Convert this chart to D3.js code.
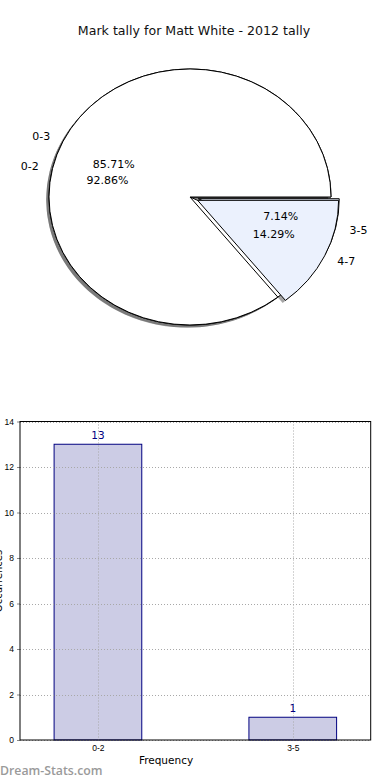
<!DOCTYPE html>
<html>
<head>
<meta charset="utf-8">
<script src="https://cdn.jsdelivr.net/npm/d3@7"></script>
<style>
  body { margin: 0; background: #fff; }
  svg { display: block; font-family: "DejaVu Sans", sans-serif; }
</style>
</head>
<body>
<div id="root"></div>
<script>
// pie 1 (drawn first, mostly hidden) and pie 2 (drawn on top)
var pieLabelsA = ["0-2", "3-5"];
var pieValuesA = [13, 1];
var pieLabelsB = ["0-3", "4-7"];
var pieValuesB = [12, 2];
var pieExplode = [0, 0.06];
var pieColors = ["#ffffff", "#ebf1fd"];

// bar chart
var barCategories = ["0-2", "3-5"];
var barValues = [13, 1];
var yTicks = [0, 2, 4, 6, 8, 10, 12, 14];

var W = 390, H = 780;
var svg = d3.select("#root").append("svg")
    .attr("width", W)
    .attr("height", H);

svg.append("text")
    .attr("x", 194)
    .attr("y", 35)
    .attr("text-anchor", "middle")
    .style("font-size", "12.6px")
    .style("fill", "#111")
    .text("Mark tally for Matt White - 2012 tally");

// ---- pie ----
var cx = 190, cy = 197, rx = 141, ry = 128;

// matplotlib style: start at 3 o'clock, go counter clockwise
var pie = d3.pie()
    .sort(null)
    .startAngle(Math.PI / 2)
    .endAngle(Math.PI / 2 - 2 * Math.PI);

var arc = d3.arc().innerRadius(0).outerRadius(1);

function slices(values, labels) {
    var total = d3.sum(values);
    return pie(values).map(function (d, i) {
        d.label = labels[i];
        d.pct = (100 * values[i] / total).toFixed(2) + "%";
        d.explode = pieExplode[i];
        d.color = pieColors[i];
        d.mid = (d.startAngle + d.endAngle) / 2;
        return d;
    });
}

var pies = [slices(pieValuesA, pieLabelsA), slices(pieValuesB, pieLabelsB)];

function offset(d, k) {
    return [cx + k * rx * Math.sin(d.mid), cy - k * ry * Math.cos(d.mid)];
}

var gPie = svg.append("g");

// shadows below all wedges
pies.forEach(function (p) {
    p.forEach(function (d) {
        var o = offset(d, d.explode);
        gPie.append("path")
            .attr("d", arc(d))
            .attr("transform", "translate(" + (o[0] - 2.8) + "," + (o[1] + 2.6) + ") scale(" + rx + "," + ry + ")")
            .attr("fill", "rgba(77,77,77,0.5)");
    });
});

pies.forEach(function (p) {
    p.forEach(function (d) {
        var o = offset(d, d.explode);
        gPie.append("path")
            .attr("d", arc(d))
            .attr("transform", "translate(" + o[0] + "," + o[1] + ") scale(" + rx + "," + ry + ")")
            .attr("fill", d.color)
            .attr("stroke", "#000")
            .attr("stroke-width", 1)
            .attr("vector-effect", "non-scaling-stroke");
    });
});

pies.forEach(function (p) {
    p.forEach(function (d) {
        var t = offset(d, 1.1 + d.explode);
        gPie.append("text")
            .attr("x", t[0])
            .attr("y", t[1])
            .attr("dy", "0.35em")
            .attr("text-anchor", Math.sin(d.mid) < 0 ? "end" : "start")
            .style("font-size", "11px")
            .text(d.label);
        var q = offset(d, 0.6 + d.explode);
        gPie.append("text")
            .attr("x", q[0])
            .attr("y", q[1])
            .attr("dy", "0.35em")
            .attr("text-anchor", "middle")
            .style("font-size", "11px")
            .text(d.pct);
    });
});

// ---- bar chart ----
var plotLeft = 20, plotRight = 370.7, plotTop = 421.5, plotBottom = 740;

var x = d3.scalePoint()
    .domain(barCategories)
    .range([plotLeft, plotRight])
    .padding(0.4);

var y = d3.scaleLinear()
    .domain([0, 14])
    .range([plotBottom, plotTop]);

var bw = x.step() * 0.45;

svg.selectAll(".bar")
    .data(barValues)
    .enter()
    .append("rect")
    .attr("class", "bar")
    .attr("x", function (d, i) { return x(barCategories[i]) - bw / 2; })
    .attr("y", function (d) { return y(d); })
    .attr("width", bw)
    .attr("height", function (d) { return plotBottom - y(d); })
    .attr("fill", "#cccce5")
    .attr("stroke", "#000080")
    .attr("stroke-width", 1);

// dotted grid on top of bars
var grid = svg.append("g")
    .attr("stroke", "#a8a8a8")
    .attr("stroke-width", 1)
    .attr("stroke-dasharray", "1,2");

grid.selectAll(".hg")
    .data(yTicks)
    .enter()
    .append("line")
    .attr("x1", plotLeft).attr("x2", plotRight)
    .attr("y1", function (d) { return Math.round(y(d)) + 0.5; })
    .attr("y2", function (d) { return Math.round(y(d)) + 0.5; });

grid.selectAll(".vg")
    .data(barCategories)
    .enter()
    .append("line")
    .attr("x1", function (d) { return Math.round(x(d)) + 0.5; })
    .attr("x2", function (d) { return Math.round(x(d)) + 0.5; })
    .attr("y1", plotTop).attr("y2", plotBottom);

// value labels
svg.selectAll(".label")
    .data(barValues)
    .enter()
    .append("text")
    .attr("class", "label")
    .attr("x", function (d, i) { return x(barCategories[i]); })
    .attr("y", function (d) { return y(d) - 5; })
    .attr("text-anchor", "middle")
    .style("font-size", "10.5px")
    .style("fill", "#000080")
    .text(function (d) { return d; });

// axes
var yAxis = d3.axisLeft(y)
    .tickValues(yTicks)
    .tickSize(3)
    .tickPadding(3);

var gy = svg.append("g")
    .attr("transform", "translate(" + plotLeft + ",0)")
    .call(yAxis);
gy.select(".domain").remove();
gy.selectAll("line").attr("stroke", "#888");
gy.selectAll("text").style("font-size", "8.5px").style("font-family", "Liberation Sans, sans-serif").attr("fill", "#000");

var xAxis = d3.axisBottom(x).tickSize(0).tickPadding(5);
var gx = svg.append("g")
    .attr("transform", "translate(0," + plotBottom + ")")
    .call(xAxis);
gx.select(".domain").remove();
gx.selectAll("text").style("font-size", "8.5px").style("font-family", "Liberation Sans, sans-serif").attr("fill", "#000");

// frame
svg.append("rect")
    .attr("x", plotLeft).attr("y", plotTop)
    .attr("width", plotRight - plotLeft).attr("height", plotBottom - plotTop)
    .attr("fill", "none")
    .attr("stroke", "#000")
    .attr("stroke-width", 1);

svg.append("text")
    .attr("x", 166)
    .attr("y", 764)
    .attr("text-anchor", "middle")
    .style("font-size", "10.5px")
    .text("Frequency");

// y label, mostly outside the picture as in the source
svg.append("text")
    .attr("transform", "translate(1.5,581) rotate(-90)")
    .attr("text-anchor", "middle")
    .style("font-size", "10px")
    .style("fill", "#000")
    .text("Occurrences");

svg.append("text")
    .attr("x", 0)
    .attr("y", 775)
    .style("font-size", "12.3px")
    .style("font-family", "Open Sans, sans-serif")
    .style("font-weight", "600")
    .style("fill", "#9a9a9a")
    .text("Dream-Stats.com");
</script>
</body>
</html>
